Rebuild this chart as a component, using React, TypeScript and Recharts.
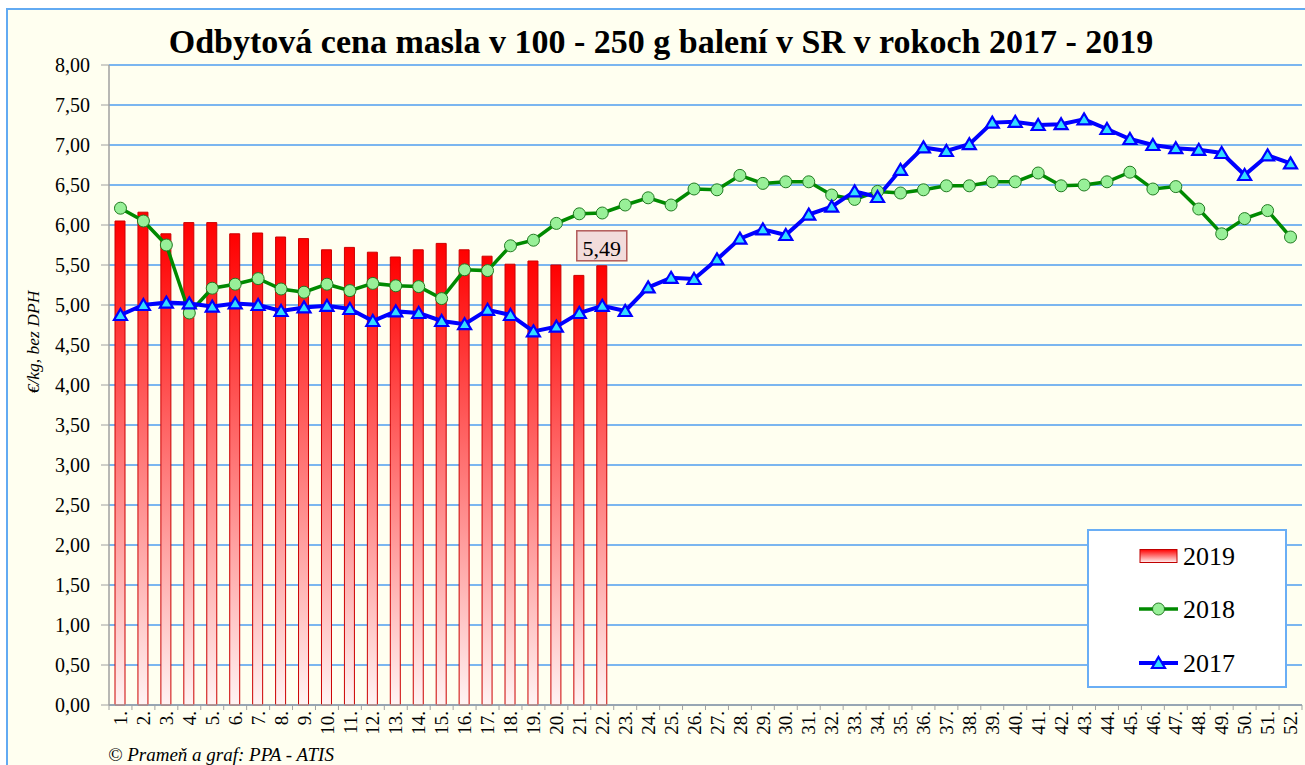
import React from 'react';
import { ComposedChart, Bar, Line, XAxis, YAxis, CartesianGrid, LabelList } from 'recharts';

const weekLabels = ['1.','2.','3.','4.','5.','6.','7.','8.','9.','10.','11.','12.','13.','14.','15.','16.','17.','18.','19.','20.','21.','22.','23.','24.','25.','26.','27.','28.','29.','30.','31.','32.','33.','34.','35.','36.','37.','38.','39.','40.','41.','42.','43.','44.','45.','46.','47.','48.','49.','50.','51.','52.'];

const values2019 = [6.05, 6.16, 5.89, 6.03, 6.03, 5.89, 5.90, 5.85, 5.83, 5.69, 5.72, 5.66, 5.60, 5.69, 5.77, 5.69, 5.61, 5.51, 5.55, 5.50, 5.37, 5.49];

const values2018 = [6.21, 6.05, 5.75, 4.90, 5.21, 5.26, 5.33, 5.20, 5.16, 5.26, 5.18, 5.27, 5.24, 5.23, 5.08, 5.44, 5.43, 5.74, 5.81, 6.02, 6.14, 6.15, 6.25, 6.34, 6.25, 6.45, 6.44, 6.62, 6.52, 6.54, 6.54, 6.375, 6.32, 6.42, 6.40, 6.44, 6.49, 6.49, 6.54, 6.54, 6.65, 6.49, 6.50, 6.54, 6.66, 6.45, 6.48, 6.20, 5.89, 6.08, 6.18, 5.85];

const values2017 = [4.875, 5.00, 5.03, 5.02, 4.98, 5.02, 5.00, 4.925, 4.97, 4.99, 4.95, 4.80, 4.92, 4.90, 4.80, 4.76, 4.94, 4.875, 4.67, 4.73, 4.90, 4.99, 4.925, 5.22, 5.34, 5.325, 5.57, 5.83, 5.945, 5.875, 6.13, 6.23, 6.42, 6.35, 6.69, 6.97, 6.925, 7.01, 7.28, 7.29, 7.25, 7.26, 7.32, 7.20, 7.075, 7.00, 6.96, 6.94, 6.90, 6.625, 6.87, 6.77];

const yTicks = [0, 0.5, 1, 1.5, 2, 2.5, 3, 3.5, 4, 4.5, 5, 5.5, 6, 6.5, 7, 7.5, 8];

const seriesNames = ['2019', '2018', '2017'];

const labelledWeek = '22.';

const data = weekLabels.map((w, i) => ({
  week: w,
  y2019: i < values2019.length ? values2019[i] : null,
  y2018: values2018[i],
  y2017: values2017[i],
}));

const FONT = "'Liberation Serif', 'Times New Roman', serif";
const fmt = (v: number) => v.toFixed(2).replace('.', ',');

const GreenDot = (props: any) => {
  const { cx, cy, index } = props;
  if (cx == null || cy == null) return <g key={`g${index}`} />;
  return <circle key={`g${index}`} cx={cx} cy={cy} r={6} fill="#98f098" stroke="#217a21" strokeWidth={1} />;
};

const BlueDot = (props: any) => {
  const { cx, cy, index } = props;
  if (cx == null || cy == null) return <g key={`b${index}`} />;
  const pts = `${cx},${cy - 6} ${cx + 6.5},${cy + 5} ${cx - 6.5},${cy + 5}`;
  return <polygon key={`b${index}`} points={pts} fill="#33ddff" stroke="#0000ff" strokeWidth={2.2} strokeLinejoin="miter" />;
};

const XTick = (props: any) => {
  const { x, y, payload, index } = props;
  const off = payload && payload.offset ? payload.offset : 11.47;
  return (
    <g transform={`translate(${x},${y})`}>
      <line x1={-off} y1={-6} x2={-off} y2={-1} stroke="#a0a0a0" strokeWidth={1} />
      {index === weekLabels.length - 1 && (
        <line x1={off} y1={-6} x2={off} y2={-1} stroke="#a0a0a0" strokeWidth={1} />
      )}
      <text x={0} y={0} transform="rotate(-90)" textAnchor="end" dy="0.35em" fontSize={19} fontFamily={FONT} fill="#000">
        {payload.value}
      </text>
    </g>
  );
};

const BarLabel = (props: any) => {
  const { x, y, width, value, index } = props;
  if (value == null || data[index]?.week !== labelledWeek) return null;
  const cx = x + width / 2;
  return (
    <g>
      <rect x={cx - 25} y={y - 35} width={50} height={30} fill="#f2dcdb" stroke="#b25a58" strokeWidth={1.5} />
      <text x={cx} y={y - 10} textAnchor="middle" fontSize={22} fontFamily={FONT} fill="#000">{fmt(value)}</text>
    </g>
  );
};

const LegendBox = () => {
  const rows = [25, 78, 132];
  return (
    <div style={{ position: 'absolute', left: 1079, top: 519, width: 200, height: 159, boxSizing: 'border-box', border: '2px solid #6aaef5', background: '#ffffff' }}>
      <svg width={196} height={155} style={{ display: 'block' }}>
        <defs>
          <linearGradient id="legGrad" x1="0" y1="0" x2="0" y2="1">
            <stop offset="0%" stopColor="#ff0000" />
            <stop offset="100%" stopColor="#fff3f3" />
          </linearGradient>
        </defs>
        <rect x={51} y={rows[0] - 6.5} width={37} height={13} fill="url(#legGrad)" stroke="#c00000" strokeWidth={1} />
        <text x={94} y={rows[0]} dy="0.35em" fontSize={26} fontFamily={FONT} fill="#000">{seriesNames[0]}</text>
        <line x1={50} y1={rows[1]} x2={89} y2={rows[1]} stroke="#008a00" strokeWidth={3.5} />
        <circle cx={69.5} cy={rows[1]} r={6} fill="#98f098" stroke="#217a21" strokeWidth={1} />
        <text x={94} y={rows[1]} dy="0.35em" fontSize={26} fontFamily={FONT} fill="#000">{seriesNames[1]}</text>
        <line x1={50} y1={rows[2]} x2={89} y2={rows[2]} stroke="#0000ff" strokeWidth={4} />
        <polygon points={`69.5,${rows[2] - 6} 76,${rows[2] + 5} 63,${rows[2] + 5}`} fill="#33ddff" stroke="#0000ff" strokeWidth={2.2} />
        <text x={94} y={rows[2]} dy="0.35em" fontSize={26} fontFamily={FONT} fill="#000">{seriesNames[2]}</text>
      </svg>
    </div>
  );
};

export default function App() {
  return (
    <div style={{ position: 'absolute', left: 6, top: 8, width: 1310, height: 770, border: '2px solid #62aaf2', background: '#fffff0', overflow: 'hidden' }}>
      <ComposedChart width={1298} height={760} data={data} margin={{ top: 55, right: 4, left: 0, bottom: 0 }} barSize={10}>
        <defs>
          <linearGradient id="barGrad" x1="0" y1="0" x2="0" y2="1">
            <stop offset="0%" stopColor="#ff0000" />
            <stop offset="100%" stopColor="#fff3f3" />
          </linearGradient>
        </defs>
        <CartesianGrid vertical={false} stroke="#4f9ef0" strokeWidth={1.3} />
        <XAxis
          dataKey="week"
          interval={0}
          height={65}
          tickLine={false}
          tickSize={5}
          tickMargin={1}
          axisLine={{ stroke: '#a0a0a0', strokeWidth: 1.5 }}
          tick={<XTick />}
        />
        <YAxis
          type="number"
          domain={[0, 8]}
          ticks={yTicks}
          interval={0}
          width={101}
          tickSize={8}
          tickMargin={11}
          tickFormatter={fmt}
          axisLine={{ stroke: '#a0a0a0', strokeWidth: 1.5 }}
          tickLine={{ stroke: '#a0a0a0' }}
          tick={{ fontSize: 20, fontFamily: FONT, fill: '#000' }}
        />
        <Bar dataKey="y2019" name={seriesNames[0]} fill="url(#barGrad)" stroke="#cc0000" strokeWidth={1} isAnimationActive={false}>
          <LabelList dataKey="y2019" content={<BarLabel />} />
        </Bar>
        <Line dataKey="y2018" name={seriesNames[1]} stroke="#008a00" strokeWidth={3.5} dot={<GreenDot />} activeDot={false} isAnimationActive={false} />
        <Line dataKey="y2017" name={seriesNames[2]} stroke="#0000ff" strokeWidth={4} dot={<BlueDot />} activeDot={false} isAnimationActive={false} />
      </ComposedChart>
      <LegendBox />
      <svg width={1310} height={770} style={{ position: 'absolute', left: 0, top: 0, pointerEvents: 'none' }}>
        <text x={653} y={43.3} textAnchor="middle" fontSize={34} fontWeight="bold" fontFamily={FONT} fill="#000">
          Odbytová cena masla v 100 - 250 g balení v SR v rokoch 2017 - 2019
        </text>
        <text x={25} y={332} transform="rotate(-90, 25, 332)" textAnchor="middle" dy="0.35em" fontSize={17.5} fontStyle="italic" fontFamily={FONT} fill="#000">
          €/kg, bez DPH
        </text>
        <text x={100} y={751} fontSize={19} fontStyle="italic" fontFamily={FONT} fill="#000">
          © Prameň a graf: PPA - ATIS
        </text>
      </svg>
    </div>
  );
}
